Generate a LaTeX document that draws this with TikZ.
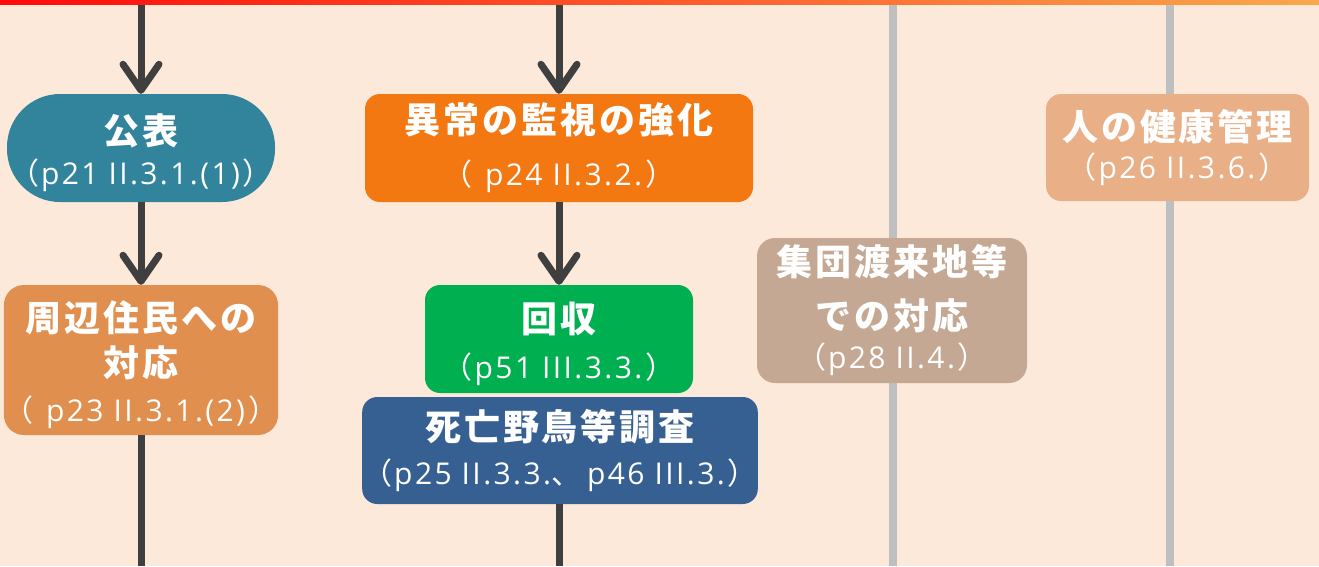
\documentclass[tikz,border=0pt]{standalone}
\usepackage{fontspec}
\setmainfont{Open Sans}
\newfontfamily\subf[LetterSpace=8]{Open Sans}
\newfontfamily\cjk{Noto Sans CJK JP}
\newfontfamily\cjkt[LetterSpace=8]{Noto Sans CJK JP}
\usetikzlibrary{arrows.meta}
\definecolor{cBg}{HTML}{FDE9D9}
\definecolor{cTeal}{HTML}{31849B}
\definecolor{cOrgA}{HTML}{E08F4E}
\definecolor{cOrgB}{HTML}{F47812}
\definecolor{cGreen}{HTML}{00B050}
\definecolor{cBlue}{HTML}{376092}
\definecolor{cTan}{HTML}{C4A893}
\definecolor{cPeach}{HTML}{E9B088}
\definecolor{cDark}{HTML}{3F3F3F}
\definecolor{cLane}{HTML}{BFBFBF}
\definecolor{cBarL}{HTML}{FF0A0A}
\definecolor{cBarR}{HTML}{F9A84B}
\newcommand\ttl[1]{{\cjkt\bfseries\fontsize{36}{36}\selectfont #1}}
\newcommand\jp[1]{{\cjk #1}}
\newcommand\wsp{\hspace{10pt}}
\newcommand\opn{\jp{（}\hspace{2pt}}
\newcommand\cls{\hspace{3pt}\jp{）}}
\newcommand\dn{\rule{0pt}{40pt}}
\tikzset{
  box/.style={inner sep=0pt, text=white, align=center},
  bskip/.style={font=\subf\fontsize{30}{#1}\selectfont},
  flow/.style={draw=cDark, line width=7pt},
  arr/.style={flow, -{Straight Barb[length=26pt,width=36pt,round]}},
  lane/.style={draw=cLane, line width=8pt},
}
\begin{document}
\begin{tikzpicture}[x=1pt,y=-1pt]
\fill[cBg] (0,0) rectangle (1319,566);
\useasboundingbox (0,0) rectangle (1319,566);
% lanes
\coordinate (laneAt) at (893,0);
\coordinate (laneAb) at (893,566);
\coordinate (laneBt) at (1170,0);
\coordinate (laneBb) at (1170,566);
\draw[lane] (laneAt) -- (laneAb);
\draw[lane] (laneBt) -- (laneBb);
% nodes
\node[box, bskip=40pt, fill=cTeal, rounded corners=53pt, minimum width=268pt, minimum height=108pt] (kohyo) at (141,148)
  {\dn\ttl{公表}\\\opn p21\wsp II.3.1.(1)\cls};
\node[box, bskip=45pt, fill=cOrgA, rounded corners=20pt, minimum width=269pt, minimum height=150pt] (shuhen) at (141,360)
  {\dn\ttl{周辺住民への}\\\ttl{対応}\\\opn\ p23\wsp II.3.1.(2)\cls};
\node[box, bskip=52pt, fill=cOrgB, rounded corners=15pt, minimum width=388pt, minimum height=108pt] (ijo) at (559,148)
  {\ttl{異常の監視の強化}\\\opn\ p24\wsp II.3.2.\cls};
\node[box, bskip=46pt, fill=cGreen, rounded corners=15pt, minimum width=268pt, minimum height=108pt] (kaishu) at (559,339)
  {\dn\ttl{回収}\\\opn p51\wsp III.3.3.\cls};
\node[box, bskip=44pt, fill=cBlue, rounded corners=15pt, minimum width=393pt, minimum height=107pt] (shibo) at (560,450.5)
  {\ttl{死亡野鳥等調査}\\\opn p25\wsp II.3.3.\jp{、}\hspace{6pt}p46\wsp III.3.\cls};
\node[box, bskip=39pt, fill=cTan, rounded corners=18pt, minimum width=270pt, minimum height=145pt] (shudan) at (892,310.5)
  {\ttl{集団渡来地等}\\[15pt]\ttl{での対応}\\\opn p28\wsp II.4.\cls};
\node[box, bskip=38pt, fill=cPeach, rounded corners=15pt, minimum width=263pt, minimum height=107pt] (kenko) at (1177.5,147.5)
  {\ttl{人の健康管理}\\\opn p26\wsp II.3.6.\cls};
% connectors
\coordinate (topL) at (141,0);
\coordinate (botL) at (141,566);
\coordinate (topM) at (559,0);
\coordinate (botM) at (559,566);
\draw[arr] (topL) -- (kohyo.north);
\draw[arr] (kohyo.south) -- (shuhen.north);
\draw[flow] (shuhen.south) -- (botL);
\draw[arr] (topM) -- (ijo.north);
\draw[arr] (ijo.south) -- (kaishu.north);
\draw[flow] (shibo.south -| botM) -- (botM);
% top bar
\shade[left color=cBarL, right color=cBarR] (0,0) rectangle (1319,4);
\end{tikzpicture}
\end{document}
